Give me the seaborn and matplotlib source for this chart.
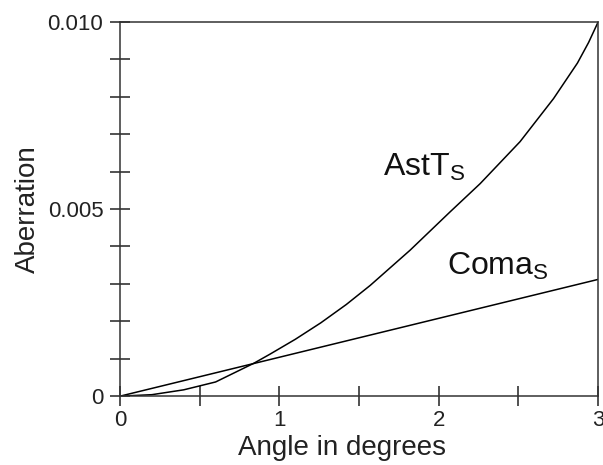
import numpy as np
import pandas as pd
import matplotlib
matplotlib.use("Agg")
import matplotlib.pyplot as plt
from matplotlib.ticker import MultipleLocator, FixedLocator
import seaborn as sns

# values
ast_angle = [0, 0.2, 0.4, 0.6, 0.84, 0.94, 1.1, 1.26, 1.42, 1.57, 1.82, 2.07,
             2.26, 2.51, 2.72, 2.87, 2.94, 3.0]
ast_value = [0, 0.00004, 0.00017, 0.00038, 0.00088, 0.00112, 0.00152, 0.00196,
             0.00245, 0.00296, 0.0039, 0.00492, 0.00568, 0.0068, 0.00795, 0.0089,
             0.00945, 0.0100]
coma_angle = [0, 1.0, 2.0, 3.0]
coma_value = [0, 0.00104, 0.00208, 0.00312]

ast_df = pd.DataFrame({"angle": ast_angle, "aberration": ast_value})
coma_df = pd.DataFrame({"angle": coma_angle, "aberration": coma_value})

sns.set_style("white")
plt.rcParams['font.family'] = ['Liberation Sans', 'DejaVu Sans']
plt.rcParams['mathtext.fontset'] = 'custom'
plt.rcParams['mathtext.rm'] = 'Liberation Sans'

fig = plt.figure(figsize=(6.03, 4.65), dpi=100)
ax = fig.add_axes([0.199, 0.148, 0.793, 0.805])

sns.lineplot(data=ast_df, x="angle", y="aberration", color="black", lw=1.1, ax=ax)
sns.lineplot(data=coma_df, x="angle", y="aberration", color="black", lw=1.1, ax=ax)

ax.set_xlim(0, 3)
ax.set_ylim(0, 0.010)

ax.xaxis.set_major_locator(FixedLocator([0, 1, 2, 3]))
ax.xaxis.set_major_formatter(plt.FixedFormatter(["0", "1", "2", "3"]))
ax.xaxis.set_minor_locator(FixedLocator([0.5, 1.5, 2.5]))
ax.yaxis.set_major_locator(FixedLocator([0, 0.005, 0.010]))
ax.yaxis.set_major_formatter(plt.FixedFormatter(["0", "0.005", "0.010"]))
ax.yaxis.set_minor_locator(MultipleLocator(0.001))

ax.tick_params(which="both", direction="inout", length=14, width=1.1, color="#222222",
               bottom=True, left=True, labelsize=16, colors="#222222")
ax.tick_params(axis="y", which="both", pad=5)
ax.tick_params(axis="x", which="both", pad=3)

for s in ax.spines.values():
    s.set_linewidth(1.1)
    s.set_color("#333333")

ax.set_xlabel("Angle in degrees", fontsize=20, color="#222222")
ax.set_ylabel("Aberration", fontsize=20, color="#222222")
ax.xaxis.set_label_coords(0.464, -0.105)
ax.yaxis.set_label_coords(-0.165, 0.5)

ax.text(1.65, 0.0059, r"AstT$_\mathregular{S}$", fontsize=23, color="#111111")
ax.text(2.05, 0.00324, r"Coma$_\mathregular{S}$", fontsize=23, color="#111111")

fig.savefig("out.png", dpi=100)
